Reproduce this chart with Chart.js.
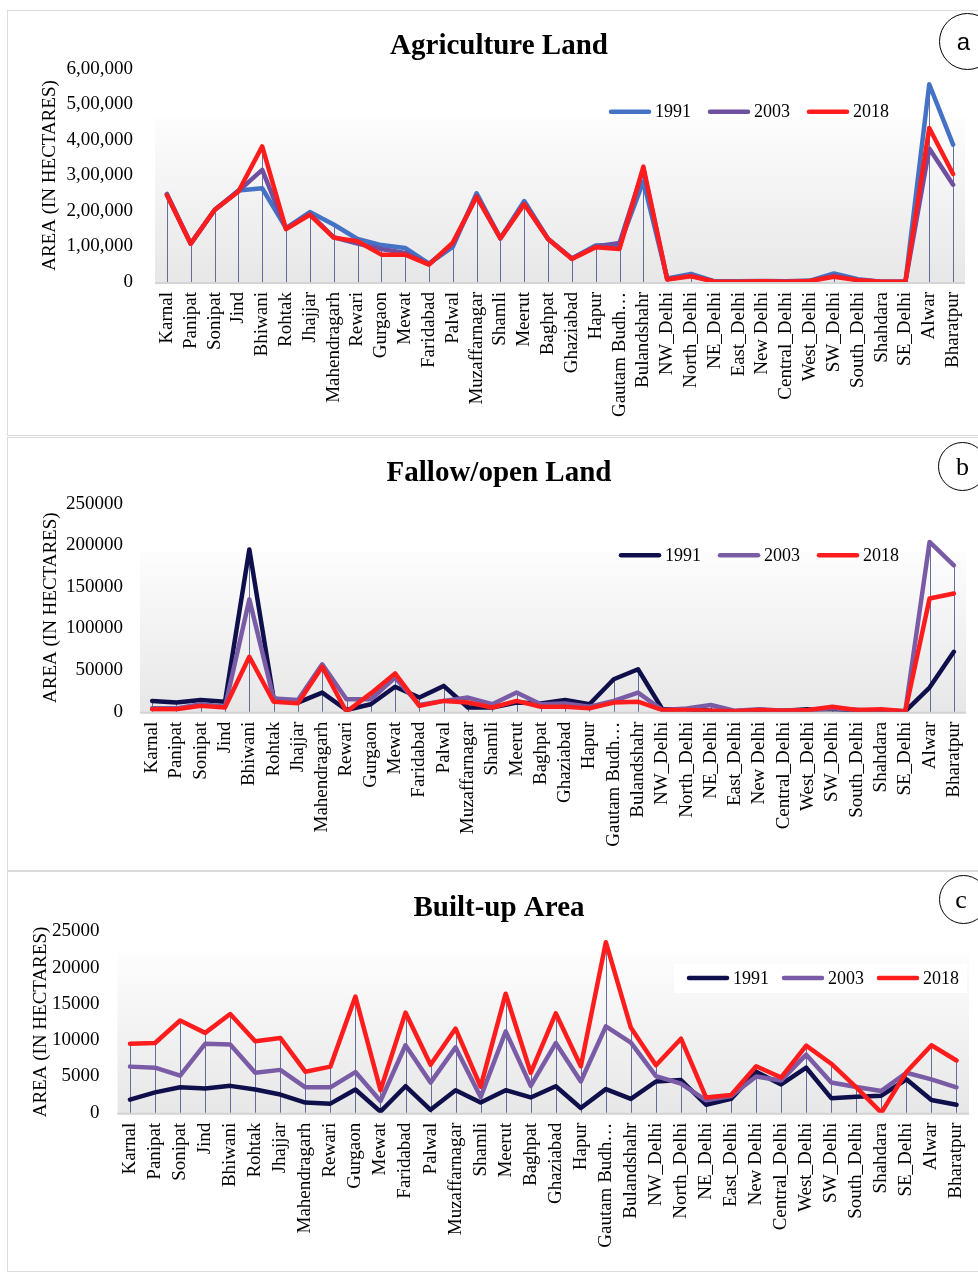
<!DOCTYPE html>
<html>
<head>
<meta charset="utf-8">
<title>Land use by district</title>
<script src="https://cdn.jsdelivr.net/npm/chart.js@4.4.1/dist/chart.umd.min.js"></script>
<style>
  html, body { margin: 0; padding: 0; background: #fff; }
  body { position: relative; width: 978px; height: 1273px; overflow: hidden; }
  .panel { position: absolute; left: 7px; width: 1000px; border: 1px solid #dcdcdc; box-sizing: border-box; }
  canvas { position: absolute; left: 0; }
  .tag { position: absolute; border: 1.6px solid #000; border-radius: 50%; box-sizing: border-box;
         display: flex; align-items: center; justify-content: center; color: #000; }
</style>
</head>
<body>
<div class="panel" style="top:10px;height:426px"></div>
<div class="panel" style="top:437px;height:434px"></div>
<div class="panel" style="top:871px;height:401px"></div>

<canvas id="agri" width="978" height="425" style="top:10px"></canvas>
<canvas id="fallow" width="978" height="433" style="top:437px"></canvas>
<canvas id="built" width="978" height="402" style="top:871px"></canvas>

<div class="tag" style="left:939px;top:13px;width:57px;height:57px;padding-right:8px;font:24px 'Liberation Sans',Arial,sans-serif">a</div>
<div class="tag" style="left:938px;top:442px;width:49px;height:49px;font:26px 'Liberation Serif','Times New Roman',serif">b</div>
<div class="tag" style="left:939px;top:875px;width:49px;height:49px;padding-right:5px;font:26px 'Liberation Serif','Times New Roman',serif">c</div>

<script>
const districts = ['Karnal', 'Panipat', 'Sonipat', 'Jind', 'Bhiwani', 'Rohtak', 'Jhajjar', 'Mahendragarh',
  'Rewari', 'Gurgaon', 'Mewat', 'Faridabad', 'Palwal', 'Muzaffarnagar', 'Shamli', 'Meerut', 'Baghpat',
  'Ghaziabad', 'Hapur', 'Gautam Budh…', 'Bulandshahr', 'NW_Delhi', 'North_Delhi', 'NE_Delhi', 'East_Delhi',
  'New Delhi', 'Central_Delhi', 'West_Delhi', 'SW_Delhi', 'South_Delhi', 'Shahdara', 'SE_Delhi', 'Alwar', 'Bharatpur'];
const years = ['1991', '2003', '2018'];

// (a) agriculture land, hectares
const agri1991 = [248000, 108000, 203000, 258000, 264000, 152000, 197000, 162000, 121000, 104000, 96000, 52000,
  99000, 250000, 123000, 228000, 121000, 66000, 103000, 105000, 283000, 10000, 23000, 2000, 2000, 3000, 2000,
  4000, 24000, 8000, 1000, 1000, 557000, 387000];
const agri2003 = [246000, 108000, 203000, 256000, 316000, 150000, 192000, 126000, 108000, 93000, 82000, 50000,
  108000, 242000, 123000, 221000, 121000, 66000, 100000, 110000, 318000, 8000, 18000, 1000, 1000, 2000, 1000,
  3000, 18000, 6000, 500, 1000, 376000, 274000];
const agri2018 = [245000, 108000, 203000, 255000, 382000, 149000, 189000, 125000, 115000, 77000, 77000, 49000,
  111000, 240000, 123000, 219000, 121000, 65000, 98000, 93000, 325000, 7000, 16000, 1000, 1000, 2000, 1000,
  3000, 15000, 5000, 500, 1000, 434000, 304000];

// (b) fallow / open land, hectares
const fallow1991 = [13000, 11000, 14000, 12000, 195000, 16000, 11000, 23000, 2000, 9000, 30000, 17000, 31000,
  5000, 5000, 11000, 10000, 14000, 9000, 39000, 51000, 3000, 3000, 1000, 500, 2000, 1000, 3000, 3000, 2000,
  1000, 500, 29000, 72000];
const fallow2003 = [4000, 4000, 9000, 6000, 135000, 16000, 14000, 57000, 15000, 15000, 41000, 8000, 13000,
  17000, 9000, 23000, 9000, 10000, 6000, 13000, 23000, 2000, 4000, 8000, 1000, 3000, 1000, 2000, 4000, 2000,
  1000, 500, 204000, 176000];
const fallow2018 = [3000, 3000, 7000, 5000, 66000, 12000, 10000, 54000, 0, 22000, 46000, 7000, 13000, 11000,
  5000, 13000, 6000, 6000, 4000, 11000, 12000, 2000, 2000, 1000, 500, 2000, 1000, 2000, 6000, 2000, 3000, 500,
  136000, 142000];

// (c) built-up area, hectares
const built1991 = [1800, 2800, 3500, 3350, 3700, 3200, 2500, 1400, 1250, 3200, 150, 3650, 400, 3100, 1400, 3100,
  2100, 3650, 650, 3250, 1900, 4300, 4500, 1100, 1900, 5650, 3900, 6200, 2000, 2200, 2350, 4600, 1750, 1100];
const built2003 = [6350, 6200, 5100, 9500, 9400, 5500, 5900, 3500, 3500, 5600, 1600, 9300, 4150, 9000, 2150, 11200,
  3700, 9600, 4300, 11900, 9650, 5050, 4000, 1700, 2300, 5000, 4450, 8000, 4150, 3550, 3000, 5500, 4600, 3500];
const built2018 = [9500, 9600, 12700, 11000, 13600, 9850, 10300, 5650, 6350, 16000, 3100, 13800, 6600, 11600, 3600,
  16400, 5500, 13700, 6400, 23500, 11700, 6550, 10200, 2100, 2450, 6400, 4850, 9250, 6750, 3500, 0, 5600, 9300, 7200];

Chart.defaults.font.family = '"Liberation Serif", "Times New Roman", Times, serif';
Chart.defaults.color = '#000';

function indian(v) {
  const s = String(Math.round(v));
  if (s.length <= 3) return s;
  return s.slice(0, -3).replace(/\B(?=(\d{2})+(?!\d))/g, ',') + ',' + s.slice(-3);
}

// shaded plot area, baseline and Excel-style drop lines
const plotDecor = {
  id: 'plotDecor',
  beforeDatasetsDraw(chart, args, opts) {
    const { ctx, chartArea: a, scales: { x, y } } = chart;
    ctx.save();
    const fadeTop = a.top + (a.bottom - a.top) * opts.fadeFrom;
    const g = ctx.createLinearGradient(0, fadeTop, 0, a.bottom);
    g.addColorStop(0, '#fdfdfd');
    g.addColorStop(1, '#e7e7e7');
    ctx.fillStyle = g;
    ctx.fillRect(a.left, fadeTop, a.right - a.left, a.bottom - fadeTop + 2);
    ctx.fillStyle = '#d4d4d4';
    ctx.fillRect(a.left, a.bottom, a.right - a.left, 2);

    ctx.strokeStyle = 'rgba(55,65,130,0.75)';
    ctx.lineWidth = 1;
    chart.data.labels.forEach((_, i) => {
      const top = Math.max(...chart.data.datasets.map(d => d.data[i]));
      const px = Math.round(x.getPixelForValue(i)) + 0.5;
      ctx.beginPath();
      ctx.moveTo(px, y.getPixelForValue(top));
      ctx.lineTo(px, a.bottom);
      ctx.stroke();
    });
    ctx.restore();
  }
};

// legend drawn inside the plot, long line swatches
const lineLegend = {
  id: 'lineLegend',
  afterDatasetsDraw(chart, args, opts) {
    const { ctx, chartArea: a } = chart;
    ctx.save();
    ctx.font = '18px "Liberation Serif", "Times New Roman", serif';
    const items = chart.data.datasets.map(ds => ({ text: ds.label, color: ds.borderColor, w: ctx.measureText(ds.label).width }));
    const total = items.reduce((s, it) => s + 42 + 4 + it.w, 0) + opts.gap * (items.length - 1);
    let x = a.right - opts.right - total;
    const y = a.top + opts.dy;
    if (opts.box) {
      ctx.fillStyle = '#fff';
      ctx.fillRect(x - 13, y - 14, a.right - 2 - (x - 13), 29);
    }
    ctx.textBaseline = 'middle';
    items.forEach(it => {
      ctx.strokeStyle = it.color;
      ctx.lineWidth = 4.5;
      ctx.lineCap = 'round';
      ctx.beginPath();
      ctx.moveTo(x + 2, y);
      ctx.lineTo(x + 40, y);
      ctx.stroke();
      ctx.fillStyle = '#000';
      ctx.fillText(it.text, x + 46, y + 1);
      x += 46 + it.w + opts.gap;
    });
    ctx.restore();
  }
};

function buildChart(id, o) {
  return new Chart(document.getElementById(id), {
    type: 'line',
    data: {
      labels: districts,
      datasets: o.series.map((s, k) => ({
        label: years[k],
        data: s,
        borderColor: o.colors[k],
        backgroundColor: o.colors[k],
        borderWidth: 4.5,
        pointRadius: 0,
        tension: 0,
        borderJoinStyle: 'round',
        borderCapStyle: 'round',
        order: 3 - k
      }))
    },
    options: {
      responsive: false,
      animation: false,
      layout: { padding: { left: o.padLeft, right: o.padRight, top: 0, bottom: 0 } },
      plugins: {
        legend: { display: false },
        tooltip: { enabled: false },
        title: {
          display: true, text: o.title,
          font: { size: 29, weight: 'bold' },
          padding: { top: o.titleTop, bottom: o.titleBottom }
        },
        plotDecor: { fadeFrom: o.fadeFrom },
        lineLegend: o.legend
      },
      scales: {
        x: {
          offset: true,
          grid: { display: false, drawTicks: false },
          border: { display: false },
          ticks: { autoSkip: false, minRotation: 90, maxRotation: 90, padding: 10, font: { size: 19 } },
          afterFit: s => { s.height = o.xHeight; s.paddingLeft = 0; s.paddingRight = 0; }
        },
        y: {
          min: 0, max: o.max,
          grid: { display: false, drawTicks: false },
          border: { display: false },
          ticks: { stepSize: o.step, padding: o.tickPad, font: { size: 19 }, callback: o.fmt },
          title: { display: true, text: 'AREA (IN HECTARES)', font: { size: 19 }, padding: { top: o.yTitlePad, bottom: 0 } },
          afterFit: s => { s.width = o.yWidth; s.paddingTop = 0; s.paddingBottom = 0; }
        }
      }
    },
    plugins: [plotDecor, lineLegend]
  });
}

buildChart('agri', {
  title: 'Agriculture Land',
  series: [agri1991, agri2003, agri2018],
  colors: ['#4472c4', '#6f4f9f', '#ff1c1c'],
  max: 600000, step: 100000, fmt: v => indian(v),
  padLeft: 33, padRight: 13, yWidth: 122, tickPad: 22, yTitlePad: 5.6,
  titleTop: 19.6, titleBottom: 4.6, xHeight: 153, fadeFrom: 0.23,
  legend: { right: 76, dy: 42.7, gap: 17 }
});

buildChart('fallow', {
  title: 'Fallow/open Land',
  series: [fallow1991, fallow2003, fallow2018],
  colors: ['#0f0f4b', '#7a5ca6', '#ff1c1c'],
  max: 250000, step: 50000, fmt: v => String(v),
  padLeft: 32, padRight: 12, yWidth: 108, tickPad: 17, yTitlePad: 7.6,
  titleTop: 19.6, titleBottom: 12.3, xHeight: 158.3, fadeFrom: 0.23,
  legend: { right: 67, dy: 51.6, gap: 17 }
});

buildChart('built', {
  title: 'Built-up Area',
  series: [built1991, built2003, built2018],
  colors: ['#0f0f4b', '#7a5ca6', '#ff1c1c'],
  max: 25000, step: 5000, fmt: v => String(v),
  padLeft: 29, padRight: 9, yWidth: 88.5, tickPad: 18, yTitlePad: 0.6,
  titleTop: 20.6, titleBottom: 4.9, xHeight: 160.3, fadeFrom: 0.12,
  legend: { right: 10, dy: 46.7, gap: 13, box: true }
});
</script>
</body>
</html>
